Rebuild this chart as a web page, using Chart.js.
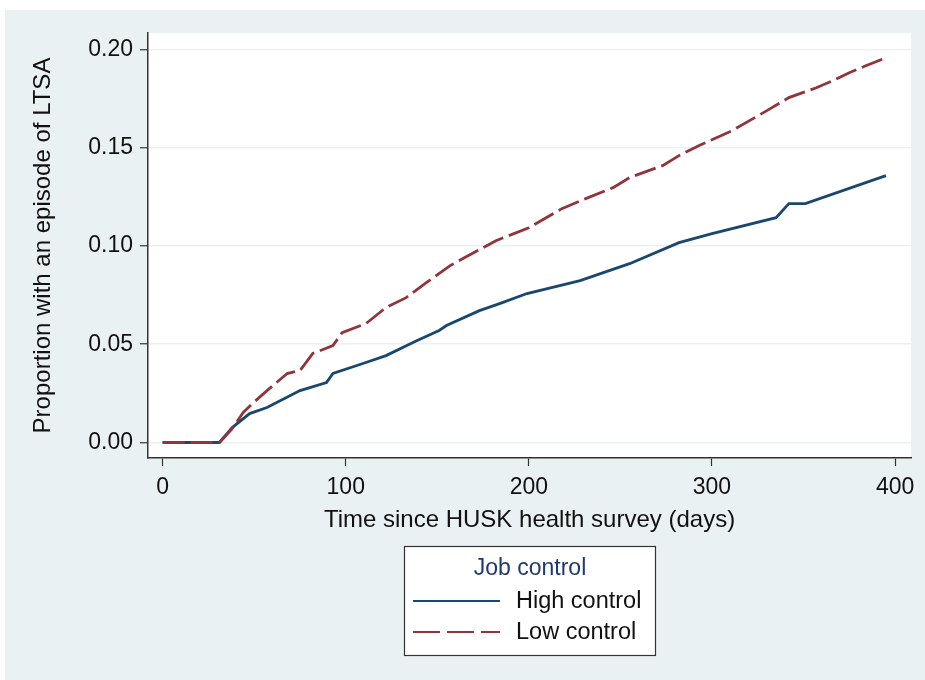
<!DOCTYPE html>
<html>
<head>
<meta charset="utf-8">
<title>Job control and LTSA</title>
<script src="https://cdn.jsdelivr.net/npm/chart.js@4.4.1/dist/chart.umd.min.js"></script>
<style>
  html, body { margin: 0; padding: 0; background: #fff; }
  #wrap { width: 925px; height: 680px; }
</style>
</head>
<body>
<div id="wrap"><canvas id="chart" width="925" height="680"></canvas></div>
<script>
'use strict';

// Days since survey / cumulative proportion
const highDays = [0, 31, 38, 47.5, 57, 75, 89.5, 93, 111, 122, 139, 151, 155, 173, 184, 199, 228, 255, 282, 300, 335, 342, 351, 395];
const highProp = [0, 0, 0.0076, 0.0147, 0.0178, 0.0264, 0.0305, 0.0351, 0.0407, 0.0442, 0.0519, 0.0570, 0.0595, 0.0671, 0.0707, 0.0758, 0.0824, 0.0910, 0.1017, 0.1063, 0.1144, 0.1216, 0.1216, 0.1358];

const lowDays = [0, 31, 38, 44, 49, 57, 68, 75, 82, 93, 98, 111, 122, 133, 144, 157, 164, 182, 200, 218, 231, 246, 255, 273, 282, 293, 311, 330, 342, 357, 366, 375, 384, 395];
const lowProp = [0, 0, 0.0071, 0.0153, 0.0198, 0.0264, 0.0351, 0.0366, 0.0453, 0.0493, 0.0559, 0.0605, 0.0687, 0.0737, 0.0814, 0.0900, 0.0936, 0.1027, 0.1093, 0.1190, 0.1241, 0.1297, 0.1348, 0.1409, 0.1460, 0.1511, 0.1587, 0.1689, 0.1755, 0.1805, 0.1841, 0.1882, 0.1917, 0.1958];

const seriesLabels = ["High control", "Low control"];
const legendTitle = "Job control";
const xTicks = [0, 100, 200, 300, 400];
const yTicks = [0, 0.05, 0.10, 0.15, 0.20];

const NAVY = "#1a476f";
const MAROON = "#90353b";
const BG = "#eaf1f3";
const FONT = "'Liberation Sans', Arial, sans-serif";

Chart.defaults.font.family = FONT;
Chart.defaults.color = "#111";

const toPoints = (xs, ys) => xs.map((x, i) => ({ x: x, y: ys[i] }));

// grey outer region + white plot region
const backgroundPlugin = {
  id: "stataBackground",
  beforeDraw(chart) {
    const { ctx, chartArea } = chart;
    ctx.save();
    ctx.fillStyle = "#fff";
    ctx.fillRect(0, 0, chart.width, chart.height);
    ctx.fillStyle = BG;
    ctx.fillRect(5, 10, chart.width - 5, chart.height - 10);
    ctx.fillStyle = "#fff";
    ctx.fillRect(chartArea.left, chartArea.top, chartArea.right - chartArea.left, chartArea.bottom - chartArea.top);
    ctx.restore();
  },
};

// boxed legend with title, below the x axis title
const legendPlugin = {
  id: "boxLegend",
  afterDraw(chart) {
    const ctx = chart.ctx;
    const box = { x: 404.5, y: 546.5, w: 251, h: 109 };
    ctx.save();
    ctx.fillStyle = "#fff";
    ctx.fillRect(box.x, box.y, box.w, box.h);
    ctx.strokeStyle = "#333";
    ctx.lineWidth = 1.2;
    ctx.strokeRect(box.x, box.y, box.w, box.h);

    ctx.font = "23px " + FONT;
    ctx.textBaseline = "middle";
    ctx.textAlign = "center";
    ctx.fillStyle = "#1e3a6e";
    ctx.fillText(legendTitle, 530, 569);

    const rows = [
      { ds: chart.data.datasets[0], y: 601, dash: [] },
      { ds: chart.data.datasets[1], y: 632, dash: [27, 7] },
    ];
    rows.forEach((row) => {
      ctx.strokeStyle = row.ds.borderColor;
      ctx.lineWidth = 2.2;
      ctx.setLineDash(row.dash);
      ctx.beginPath();
      ctx.moveTo(413, row.y);
      ctx.lineTo(500, row.y);
      ctx.stroke();
      ctx.setLineDash([]);
      ctx.fillStyle = "#111";
      ctx.textAlign = "left";
      ctx.font = "23.5px " + FONT;
      ctx.fillText(row.ds.label, 516, row.y + 1);
    });
    ctx.restore();
  },
};

new Chart(document.getElementById("chart"), {
  type: "line",
  data: {
    datasets: [
      {
        label: seriesLabels[0],
        data: toPoints(highDays, highProp),
        borderColor: NAVY,
        borderWidth: 2.8,
        pointRadius: 0,
        tension: 0,
        order: 2,
      },
      {
        label: seriesLabels[1],
        data: toPoints(lowDays, lowProp),
        borderColor: MAROON,
        borderWidth: 2.8,
        borderDash: [22, 6],
        pointRadius: 0,
        tension: 0,
        order: 1,
      },
    ],
  },
  options: {
    responsive: false,
    animation: false,
    layout: { padding: { left: 0, right: 14, top: 33, bottom: 0 } },
    plugins: {
      legend: { display: false },
      tooltip: { enabled: false },
    },
    scales: {
      x: {
        type: "linear",
        min: -8.0,
        max: 408.7,
        afterBuildTicks: (scale) => { scale.ticks = xTicks.map((v) => ({ value: v })); },
        afterFit: (scale) => { scale.height = 222; },
        grid: { drawOnChartArea: false, drawTicks: true, tickLength: 8, tickColor: "#333", tickWidth: 1.2 },
        border: { color: "#333", width: 1.5 },
        ticks: { font: { size: 23 }, color: "#111", padding: 8, maxRotation: 0 },
        title: {
          display: true,
          text: "Time since HUSK health survey (days)",
          font: { size: 24 },
          color: "#111",
          padding: { top: 0, bottom: 145.6 },
        },
      },
      y: {
        type: "linear",
        min: -0.0079,
        max: 0.2084,
        afterBuildTicks: (scale) => { scale.ticks = yTicks.map((v) => ({ value: v })); },
        afterFit: (scale) => { scale.width = 148; },
        grid: { color: BG, lineWidth: 1.5, drawTicks: true, tickLength: 8, tickColor: "#333", tickWidth: 1.2 },
        border: { color: "#333", width: 1.5 },
        ticks: {
          font: { size: 23 },
          color: "#111",
          padding: 7,
          callback: (value) => Number(value).toFixed(2),
        },
        title: {
          display: true,
          text: "Proportion with an episode of LTSA",
          font: { size: 24 },
          color: "#111",
          padding: { top: 28.6, bottom: 0 },
        },
      },
    },
  },
  plugins: [backgroundPlugin, legendPlugin],
});
</script>
</body>
</html>
